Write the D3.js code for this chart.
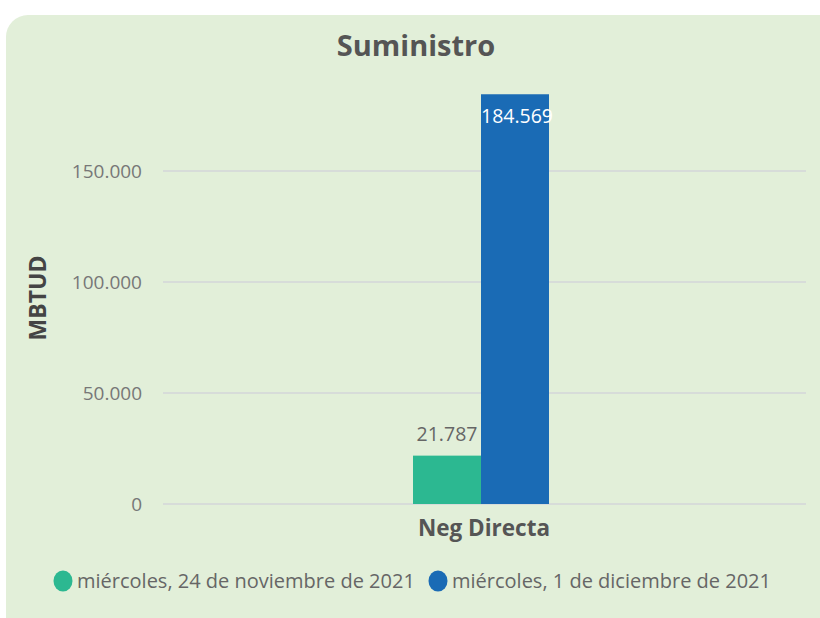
<!DOCTYPE html>
<html><head><meta charset="utf-8">
<script src="https://cdn.jsdelivr.net/npm/d3@7"></script>
<style>body{margin:0;background:#fff;}svg{display:block;font-family:"Open Sans","Noto Sans",sans-serif;}</style>
</head><body><svg id="c" width="820" height="618"></svg>
<script>
const categories = ["Neg Directa"];
const seriesNames = ["miércoles, 24 de noviembre de 2021", "miércoles, 1 de diciembre de 2021"];
const seriesValues = [[21787], [184569]];
const seriesColors = ["#2cb891", "#1a6bb5"];
const yTicks = [0, 50000, 100000, 150000];
const yTickLabels = ["0", "50.000", "100.000", "150.000"];
const valueLabels = ["21.787", "184.569"];

const svg = d3.select("#c");
svg.append("rect").attr("x",6).attr("y",15).attr("width",840).attr("height",640).attr("rx",22).attr("fill","#e2efd9");

const x0 = d3.scaleBand().domain(categories).range([163, 799]).paddingInner(0).paddingOuter(0);
const x1 = d3.scaleBand().domain(seriesNames).range([0, 136]);
const y = d3.scaleLinear().domain([0, 150000]).range([504, 171]);

svg.append("text").attr("x",416).attr("y",56).attr("text-anchor","middle")
  .attr("font-size",29).attr("font-weight","bold").attr("fill","#555").text("Suministro");

const g = svg.append("g");
g.selectAll("line.grid").data(yTicks).join("line")
  .attr("x1",163).attr("x2",806).attr("y1",d=>y(d)).attr("y2",d=>y(d))
  .attr("stroke","#d3d6d8").attr("stroke-width",1.5);
g.selectAll("text.tick").data(yTicks).join("text")
  .attr("x",142).attr("y",d=>y(d)).attr("dy","0.35em").attr("text-anchor","end")
  .attr("font-size",19).attr("fill","#777").text((d,i)=>yTickLabels[i]);

svg.append("text").attr("transform","translate(46,298) rotate(-90)").attr("text-anchor","middle")
  .attr("font-size",23).attr("font-weight","bold").attr("fill","#444").text("MBTUD");

categories.forEach((cat, ci) => {
  const cx = x0(cat) + x0.bandwidth()/2;
  const startX = cx - 136/2;
  seriesNames.forEach((s, si) => {
    const v = seriesValues[si][ci];
    const bx = startX + x1(s);
    svg.append("rect").attr("x",bx).attr("y",y(v)).attr("width",x1.bandwidth()).attr("height",y(0)-y(v))
      .attr("fill",seriesColors[si]);
    const inside = si === 1;
    svg.append("text").attr("x",bx + x1.bandwidth()/2 + (inside?2:0)).attr("y", inside ? y(v)+29 : y(v)-15)
      .attr("text-anchor","middle").attr("font-size",19.5)
      .attr("fill", inside ? "#fff" : "#666").text(valueLabels[si]);
  });
  svg.append("text").attr("x",cx+3).attr("y",536).attr("text-anchor","middle")
    .attr("font-size",22.5).attr("font-weight","bold").attr("fill","#555").text(cat);
});

const legendX = [63, 438];
seriesNames.forEach((s, i) => {
  svg.append("ellipse").attr("cx",legendX[i]).attr("cy",581).attr("rx",9.5).attr("ry",10.5).attr("fill",seriesColors[i]);
  svg.append("text").attr("x",legendX[i]+14).attr("y",581).attr("dy","0.35em")
    .attr("font-size",20).attr("fill","#666").text(s);
});
</script></body></html>
